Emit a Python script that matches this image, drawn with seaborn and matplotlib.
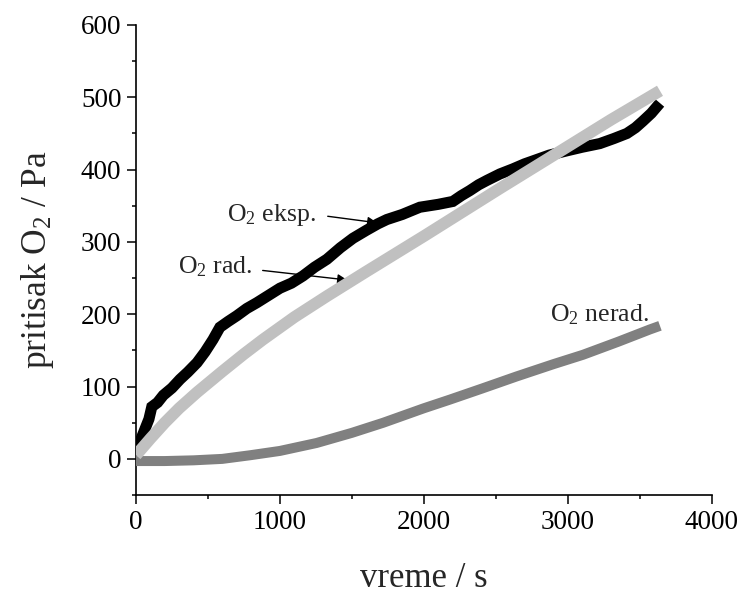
import matplotlib
matplotlib.use("Agg")
import matplotlib.pyplot as plt
import seaborn as sns
import pandas as pd
from matplotlib.ticker import MultipleLocator

# experimental O2 pressure (noisy)
t_eksp = [0, 40, 90, 110, 150, 190, 250, 306, 360, 424, 480, 535, 583, 640, 701,
          770, 840, 920, 1000, 1080, 1160, 1240, 1326, 1420, 1507, 1600, 1680,
          1743, 1850, 1972, 2100, 2201, 2260, 2319, 2380, 2437, 2528, 2618, 2700,
          2757, 2870, 2993, 3100, 3222, 3320, 3410, 3470, 3521, 3580, 3640]
p_eksp = [12, 30, 55, 72, 78, 88, 98, 110, 120, 133, 148, 165, 182, 190, 198,
          208, 216, 226, 236, 243, 253, 265, 276, 292, 305, 316, 325,
          331, 338, 348, 352, 356, 364, 371, 379, 385, 394, 401, 408,
          412, 420, 426, 431, 436, 443, 450, 458, 467, 478, 492]

# radiolytic model
t_rad = [0, 100, 200, 300, 424, 600, 750, 882, 1100, 1326, 1600, 2000, 2528, 3000, 3300, 3640]
p_rad = [5, 28, 50, 70, 92, 121, 145, 165, 196, 225, 259, 308, 374, 432, 469, 509]

# non-radiolytic model
t_nerad = [0, 200, 400, 600, 792, 1000, 1255, 1500, 1718, 2000, 2181, 2400, 2644, 2900, 3106, 3350, 3570, 3640]
p_nerad = [-3, -3, -2, 0, 5, 11, 22, 36, 50, 70, 82, 97, 114, 131, 144, 162, 179, 184]

sns.set_theme(style="ticks")
plt.rcParams["font.family"] = ["Liberation Serif", "DejaVu Serif"]
plt.rcParams["mathtext.fontset"] = "custom"
plt.rcParams["mathtext.rm"] = "Liberation Serif"
plt.rcParams["mathtext.it"] = "Liberation Serif:italic"

df_eksp = pd.DataFrame({"t": t_eksp, "p": p_eksp})
df_rad = pd.DataFrame({"t": t_rad, "p": p_rad})
df_nerad = pd.DataFrame({"t": t_nerad, "p": p_nerad})

fig = plt.figure(figsize=(7.43, 5.95), dpi=100)
ax = fig.add_axes([0.183, 0.168, 0.775, 0.790])

sns.lineplot(data=df_eksp, x="t", y="p", color="black", linewidth=8, ax=ax,
             solid_capstyle="butt", solid_joinstyle="miter", zorder=2)
sns.lineplot(data=df_nerad, x="t", y="p", color="#808080", linewidth=7.2, ax=ax,
             solid_capstyle="butt", zorder=3)
sns.lineplot(data=df_rad, x="t", y="p", color="#c0c0c0", linewidth=8.5, ax=ax,
             solid_capstyle="butt", zorder=4)

ax.set_xlim(0, 4000)
ax.set_ylim(-50, 600)
ax.xaxis.set_major_locator(MultipleLocator(1000))
ax.xaxis.set_minor_locator(MultipleLocator(500))
ax.yaxis.set_major_locator(MultipleLocator(100))
ax.yaxis.set_minor_locator(MultipleLocator(50))
ax.set_yticks([0, 100, 200, 300, 400, 500, 600])

sns.despine(ax=ax)
for s in ["left", "bottom"]:
    ax.spines[s].set_linewidth(1.2)
    ax.spines[s].set_color("black")
ax.tick_params(which="major", direction="out", length=6.5, width=1.1, labelsize=19.5,
               colors="black", pad=4)
ax.tick_params(which="minor", direction="out", length=3, width=1.1, colors="black")

ax.set_xlabel("vreme / s", fontsize=25, labelpad=20)
ax.set_ylabel(r"pritisak O$_2$ / Pa", fontsize=25.5, labelpad=18)

# annotations
ax.text(944, 329, r"O$_2$ eksp.", fontsize=18.5, ha="center", va="baseline")
ax.annotate("", xy=(1694, 326), xytext=(1313, 336),
            arrowprops=dict(arrowstyle="-|>", color="black", lw=1, mutation_scale=14))
ax.text(549, 257, r"O$_2$ rad.", fontsize=18.5, ha="center", va="baseline")
ax.annotate("", xy=(1486, 247), xytext=(861, 261),
            arrowprops=dict(arrowstyle="-|>", color="black", lw=1, mutation_scale=14))
ax.text(3222, 190, r"O$_2$ nerad.", fontsize=18.5, ha="center", va="baseline")

fig.savefig("out.png", dpi=100)
